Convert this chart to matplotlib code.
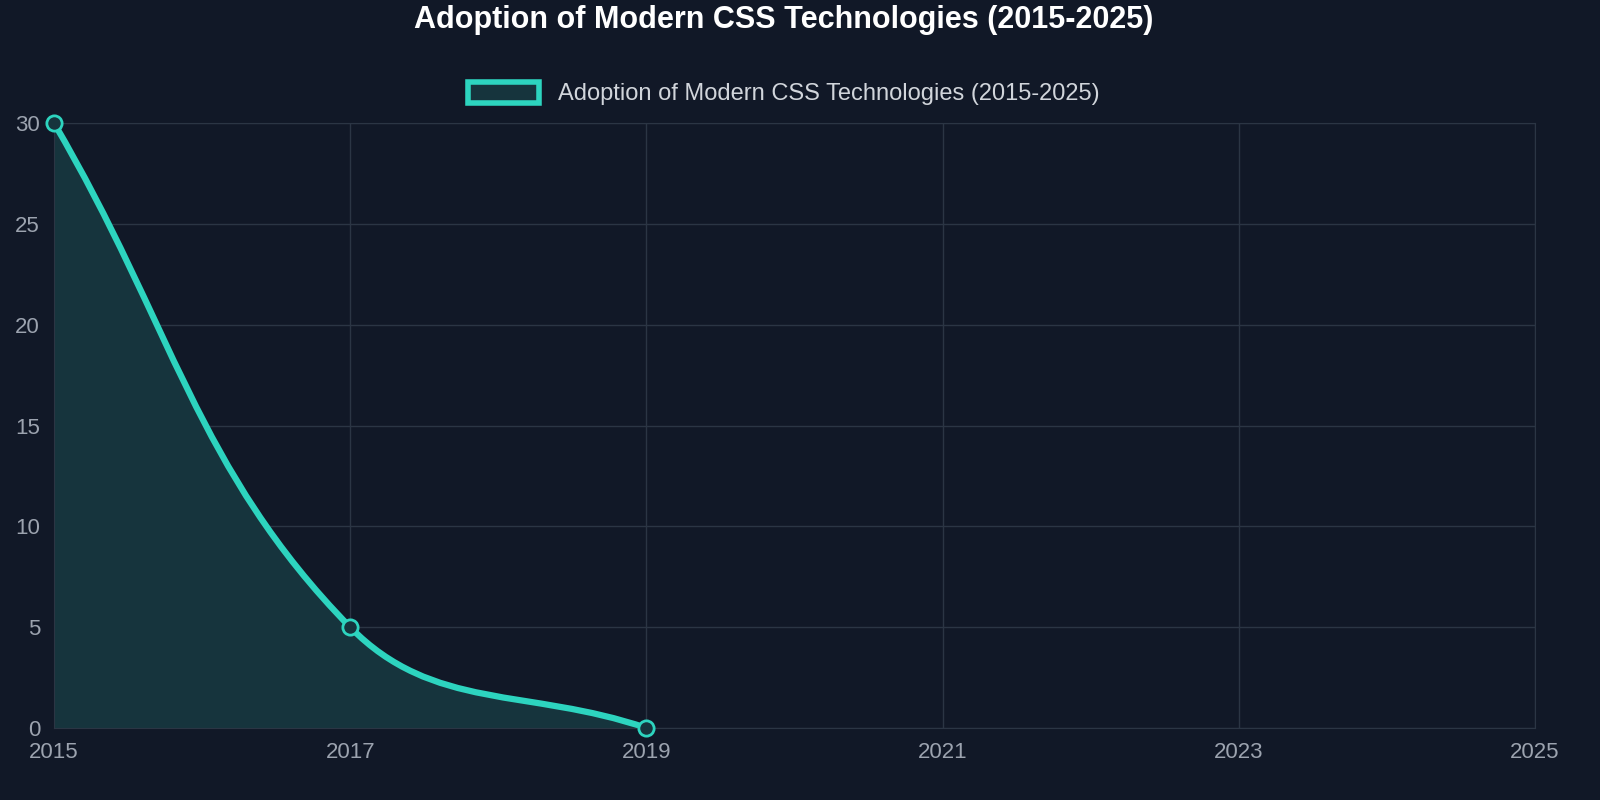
import numpy as np
import matplotlib
matplotlib.use("Agg")
import matplotlib.pyplot as plt
from matplotlib.path import Path
from matplotlib.patches import PathPatch, Patch

plt.rcParams["font.family"] = ["Liberation Sans", "DejaVu Sans"]

years = ["2015", "2017", "2019", "2021", "2023", "2025"]
values = [30, 5, 0]
label = "Adoption of Modern CSS Technologies (2015-2025)"

BG = "#111827"
GRID = "#2b3544"
LINE = "#2dd4bf"
FILL = "#16343d"
TICK = "#9ca3af"

fig = plt.figure(figsize=(16, 8), dpi=100, facecolor=BG)
ax = fig.add_axes([54 / 1600, 1 - 728 / 800, 1481 / 1600, 605 / 800])
ax.set_facecolor(BG)
ax.set_xlim(0, len(years) - 1)
ax.set_ylim(0, 30)

# Chart.js-style bezier (tension 0.4), computed in pixel space
xs = np.arange(len(values), dtype=float)
sx, sy = 1481 / (len(years) - 1), 605 / 30
P = np.column_stack([xs * sx, np.array(values, float) * sy])
t = 0.4
n = len(P)
cps = []
for i in range(n):
    a = P[max(i - 1, 0)]
    b = P[min(i + 1, n - 1)]
    d01 = np.linalg.norm(P[i] - a)
    d12 = np.linalg.norm(b - P[i])
    s01 = d01 / (d01 + d12)
    s12 = d12 / (d01 + d12)
    diff = b - a
    cps.append((P[i] - t * s01 * diff, P[i] + t * s12 * diff))
verts, codes = [tuple(P[0])], [Path.MOVETO]
for i in range(1, n):
    verts += [tuple(cps[i - 1][1]), tuple(cps[i][0]), tuple(P[i])]
    codes += [Path.CURVE4] * 3
verts = [(vx / sx, vy / sy) for vx, vy in verts]

fill_path = Path(verts + [(xs[-1], 0), (xs[0], 0), verts[0]],
                 codes + [Path.LINETO, Path.LINETO, Path.CLOSEPOLY])
ax.add_patch(PathPatch(fill_path, facecolor=FILL, edgecolor="none", zorder=1))
ax.add_patch(PathPatch(Path(verts, codes), facecolor="none", edgecolor=LINE,
                       lw=4.5, capstyle="round", zorder=2, clip_on=False))
ax.plot(xs, values, "o", ms=11, mfc=FILL, mec=LINE, mew=2, zorder=3, clip_on=False)

ax.set_xticks(range(len(years)))
ax.set_xticklabels(years)
ax.set_yticks(range(0, 31, 5))
ax.grid(True, color=GRID, lw=1)
ax.set_axisbelow(True)
for s in ax.spines.values():
    s.set_color(GRID)
ax.tick_params(colors=TICK, labelsize=16, length=0, pad=10)

fig.text(0.49, 0.975, label, ha="center", va="center", color="white",
         fontsize=22, fontweight="bold")
handle = Patch(facecolor=FILL, edgecolor=LINE, lw=4)
fig.legend([handle], [label], loc="center", bbox_to_anchor=(0.49, 0.883),
           frameon=False, fontsize=17, labelcolor="#d1d5db",
           handlelength=3.0, handleheight=1.0)

fig.savefig("out.png", facecolor=BG)
